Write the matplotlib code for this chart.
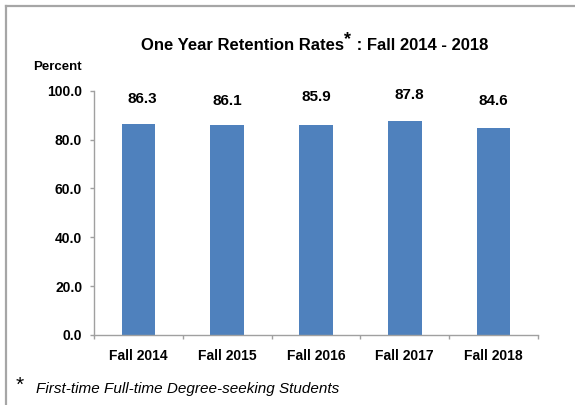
import matplotlib
matplotlib.use("Agg")
import matplotlib.pyplot as plt
from matplotlib.lines import Line2D

# ---- data ----
categories = ["Fall 2014", "Fall 2015", "Fall 2016", "Fall 2017", "Fall 2018"]
rates = [86.3, 86.1, 85.9, 87.8, 84.6]
y_ticks = [0, 20, 40, 60, 80, 100]

# label placement (layout only): data-y of each value label, x nudge in px
label_y = [96.6, 95.9, 97.6, 98.4, 95.9]
label_dx = [4, 0, 0, 5, 0]

plt.rcParams['font.family'] = ['Liberation Sans', 'DejaVu Sans']

W, H = 575, 405
fig = plt.figure(figsize=(W / 100, H / 100), dpi=100)
fig.patch.set_facecolor("white")

ax = fig.add_axes([94 / W, 1 - 335 / H, (538 - 94) / W, (335 - 90.7) / H])

x = list(range(len(categories)))
ax.bar(x, rates, width=0.38, color="#4f81bd", zorder=2)

ax.set_xlim(-0.5, len(categories) - 0.5)
ax.set_ylim(0, 100)

grey = "#a0a0a0"
for s in ["top", "right"]:
    ax.spines[s].set_visible(False)
for s in ["left", "bottom"]:
    ax.spines[s].set_color(grey)
    ax.spines[s].set_linewidth(1.0)

ax.set_yticks(y_ticks)
ax.set_yticklabels([f"{v:.1f}" for v in y_ticks], fontsize=10, fontweight="bold")
ax.tick_params(axis="y", direction="out", length=3, width=1, color=grey, pad=5.5)

ax.set_xticks(x)
ax.set_xticklabels(categories, fontsize=10, fontweight="bold")
ax.set_xticks([i - 0.5 for i in range(len(categories) + 1)], minor=True)
ax.tick_params(axis="x", which="major", length=0, pad=10)
ax.tick_params(axis="x", which="minor", direction="out", length=3, width=1, color=grey)

for xi, yl, dx, v in zip(x, label_y, label_dx, rates):
    ax.annotate(f"{v:.1f}", xy=(xi, yl), xytext=(dx * 0.72, 0), textcoords="offset points",
                ha="center", va="center", fontsize=11, fontweight="bold")

# title with superscript asterisk
t1 = fig.text(141 / W, 1 - 45 / H, "One Year Retention Rates", ha="left", va="center",
              fontsize=12, fontweight="bold")
t2 = fig.text(0, 0, "*", ha="left", va="center", fontsize=13, fontweight="bold")
t3 = fig.text(0, 0, " : Fall 2014 - 2018", ha="left", va="center",
              fontsize=12, fontweight="bold")
fig.canvas.draw()
r = fig.canvas.get_renderer()
b1 = t1.get_window_extent(r)
t2.set_position((b1.x1 / W + 0.5 / W, 1 - 40 / H))
fig.canvas.draw()
b2 = t2.get_window_extent(r)
t3.set_position((b2.x1 / W, 1 - 45 / H))

fig.text(57 / W, 1 - 67 / H, "Percent", ha="center", va="center",
         fontsize=9.5, fontweight="bold")

# footnote
fig.text(20 / W, 1 - 385 / H, "*", ha="center", va="center", fontsize=15)
fig.text(36 / W, 1 - 389 / H, "First-time Full-time Degree-seeking Students",
         ha="left", va="center", fontsize=11, fontstyle="italic")

# outer frame (top and left edges visible)
fig.add_artist(Line2D([5.5 / W, 1], [1 - 5.5 / H, 1 - 5.5 / H], transform=fig.transFigure,
                      color="#a6a6a6", lw=1.6))
fig.add_artist(Line2D([5.5 / W, 5.5 / W], [0, 1 - 5.5 / H], transform=fig.transFigure,
                      color="#a6a6a6", lw=1.6))

fig.savefig("out.png", dpi=100, facecolor="white")
